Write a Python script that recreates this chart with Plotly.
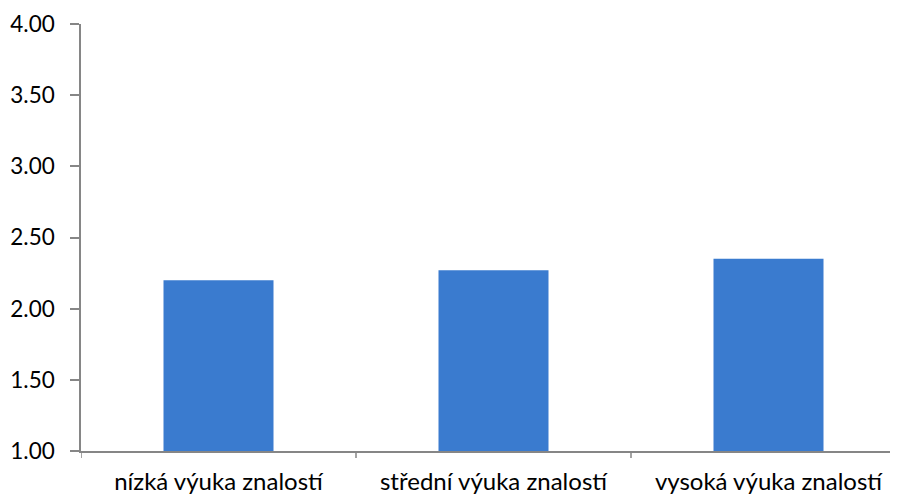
import plotly.graph_objects as go

categories = ["nízká výuka znalostí", "střední výuka znalostí", "vysoká výuka znalostí"]
values = [2.20, 2.27, 2.35]
y_ticks = [1.0, 1.5, 2.0, 2.5, 3.0, 3.5, 4.0]
y_tick_labels = ["1.00", "1.50", "2.00", "2.50", "3.00", "3.50", "4.00"]

# page has an 8px body margin; figure sized to fit the 898x495 window
OFF = 8
W, H = 898 - OFF, 495 - OFF
L, T = 81 - OFF, 23.5 - OFF
B = H - (451 - OFF)
plot_w = W - L
cat_w = 275
x_hi = -0.5 + plot_w / cat_w

fig = go.Figure(go.Bar(
    x=[0, 1, 2], y=[v - 1.0 for v in values], base=1.0,
    marker=dict(color="#3A7BCF", line=dict(width=0)),
    width=0.4,
))

axis_color = "#868686"
tick_font = dict(family="Lato, Open Sans, sans-serif", size=22.5, color="#000000")
cat_font = dict(family="Lato, Open Sans, sans-serif", size=24, color="#000000")

fig.update_layout(
    width=W, height=H,
    margin=dict(l=L, r=0, t=T, b=B, pad=0),
    paper_bgcolor="white", plot_bgcolor="white",
    showlegend=False,
    xaxis=dict(
        range=[-0.5, x_hi], tickmode="array", tickvals=[0, 1, 2], ticktext=categories,
        showgrid=False, zeroline=False, showline=True, linecolor=axis_color, linewidth=1.5,
        ticks="", tickfont=cat_font, ticklabelstandoff=8,
    ),
    yaxis=dict(
        range=[1.0, 4.0], tickmode="array", tickvals=y_ticks, ticktext=y_tick_labels,
        showgrid=False, zeroline=False, showline=True, linecolor=axis_color, linewidth=1.5,
        ticks="outside", ticklen=9, tickcolor=axis_color, tickwidth=1.5,
        tickfont=tick_font, ticklabelstandoff=11,
    ),
)

# category boundary tick marks on the x axis
for b in [-0.5, 0.5, 1.5]:
    fig.add_shape(type="line", xref="x", yref="paper", x0=b, x1=b, y0=0, y1=-7 / (H - T - B),
                  line=dict(color=axis_color, width=1.5))

fig.write_html("out.html")
